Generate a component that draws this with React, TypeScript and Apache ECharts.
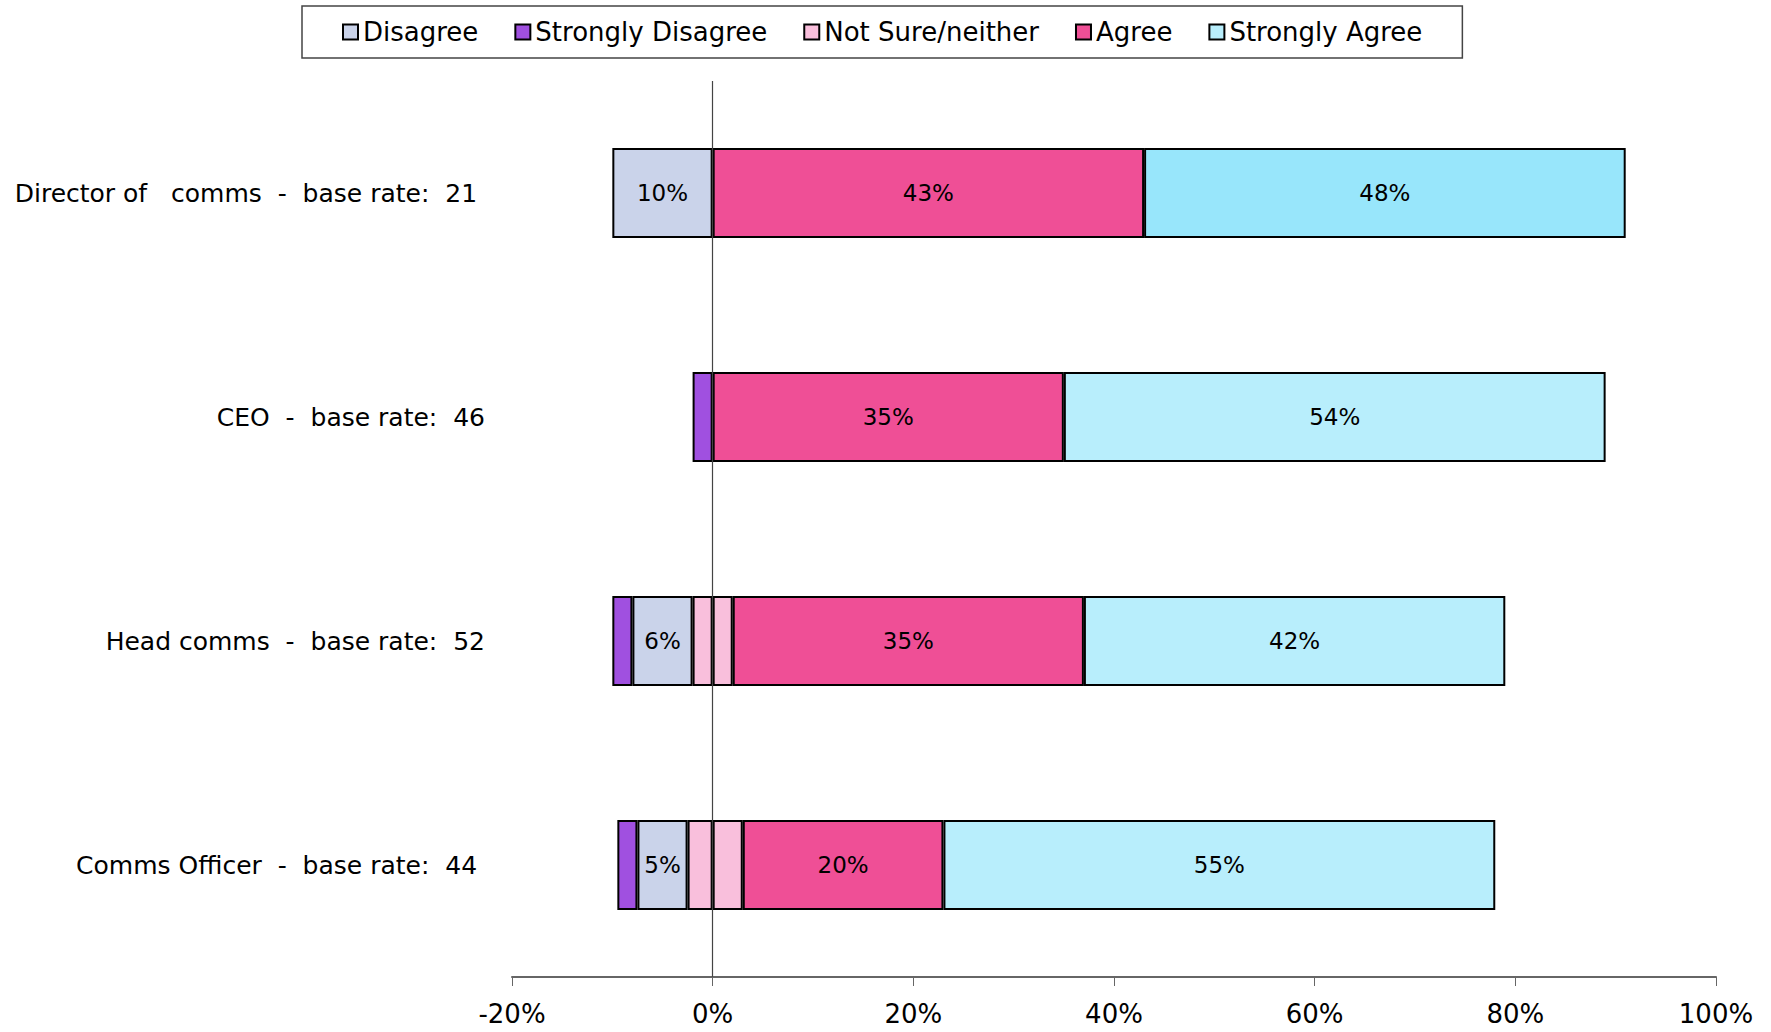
import React, { useEffect, useRef } from "react";
import * as echarts from "echarts";

const categories = [
  "Director of   comms  -  base rate:  21 ",
  "CEO  -  base rate:  46",
  "Head comms  -  base rate:  52",
  "Comms Officer  -  base rate:  44 ",
];
const stronglyDisagree = [null, 2, 2, 2];
const disagree = [10, null, 6, 5];
const notSureNeg = [null, null, 2, 2.5];
const notSurePos = [null, null, 2, 3];
const agree = [43, 35, 35, 20];
const stronglyAgree = [48, 54, 42, 55];
const xTicks = { min: -20, max: 100, interval: 20 };
const legendOrder = ["Disagree", "Strongly Disagree", "Not Sure/neither", "Agree", "Strongly Agree"];

const COLORS = {
  disagree: "#CAD3EA",
  stronglyDisagree: "#A050E0",
  notSure: "#F9BFDC",
  agree: "#EF4F96",
  stronglyAgree: "#B8EEFC",
  stronglyAgreeFirst: "#98E6FB",
};

const neg = (arr: (number | null)[]) => arr.map((v) => (v == null ? null : -v));

export default function App() {
  const ref = useRef<HTMLDivElement>(null);
  useEffect(() => {
    document.body.style.margin = "0";
    const chart = echarts.init(ref.current!, null, { renderer: "svg" });
    const FONT = "DejaVu Sans";
    const baseItem = (color: string) => ({ color, borderColor: "#000", borderWidth: 2 });
    const lbl = (show: boolean) => ({
      show,
      position: "inside",
      color: "#000",
      fontSize: 23,
      fontFamily: FONT,
      formatter: (p: any) => Math.abs(p.value) + "%",
    });
    chart.setOption({
      animation: false,
      backgroundColor: "#fff",
      textStyle: { fontFamily: FONT },
      legend: {
        data: legendOrder,
        top: 6,
        left: 302,
        padding: [13, 40, 13, 40],
        itemGap: 36,
        itemWidth: 15,
        itemHeight: 15,
        icon: "rect",
        borderColor: "#444",
        borderWidth: 1.5,
        textStyle: { fontSize: 26, color: "#000", fontFamily: FONT },
      },
      grid: { left: 512, right: 55, top: 81, bottom: 55, containLabel: false },
      xAxis: {
        type: "value",
        min: xTicks.min,
        max: xTicks.max,
        interval: xTicks.interval,
        axisLine: { show: true, onZero: false, lineStyle: { color: "#666", width: 2 } },
        axisTick: { show: true, length: 9, lineStyle: { color: "#666", width: 1 } },
        splitLine: { show: false },
        axisLabel: { formatter: "{value}%", fontSize: 26, color: "#000", margin: 24, fontFamily: FONT },
      },
      yAxis: {
        type: "category",
        data: categories,
        inverse: true,
        axisLine: { show: false },
        axisTick: { show: false },
        axisLabel: { fontSize: 25, color: "#000", margin: 27, fontFamily: FONT },
      },
      series: [
        {
          name: "Not Sure/neither",
          type: "bar",
          stack: "total",
          barWidth: 90,
          data: neg(notSureNeg),
          itemStyle: baseItem(COLORS.notSure),
          label: lbl(false),
        },
        {
          name: "Disagree",
          type: "bar",
          stack: "total",
          barWidth: 90,
          data: neg(disagree),
          itemStyle: baseItem(COLORS.disagree),
          label: lbl(true),
        },
        {
          name: "Strongly Disagree",
          type: "bar",
          stack: "total",
          barWidth: 90,
          data: neg(stronglyDisagree),
          itemStyle: baseItem(COLORS.stronglyDisagree),
          label: lbl(false),
        },
        {
          name: "Not Sure/neither",
          type: "bar",
          stack: "total",
          barWidth: 90,
          data: notSurePos,
          itemStyle: baseItem(COLORS.notSure),
          label: lbl(false),
        },
        {
          name: "Agree",
          type: "bar",
          stack: "total",
          barWidth: 90,
          data: agree,
          itemStyle: baseItem(COLORS.agree),
          label: lbl(true),
        },
        {
          name: "Strongly Agree",
          type: "bar",
          stack: "total",
          barWidth: 90,
          data: stronglyAgree.map((v, i) =>
            i === 0 ? { value: v, itemStyle: { color: COLORS.stronglyAgreeFirst } } : v
          ),
          itemStyle: baseItem(COLORS.stronglyAgree),
          label: lbl(true),
          markLine: {
            silent: true,
            symbol: "none",
            label: { show: false },
            lineStyle: { color: "#444", width: 1.2, type: "solid" },
            data: [{ xAxis: 0 }],
          },
        },
      ],
    });
    return () => chart.dispose();
  }, []);
  return <div ref={ref} style={{ width: 1771, height: 1032 }} />;
}
